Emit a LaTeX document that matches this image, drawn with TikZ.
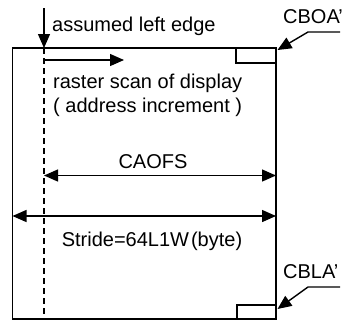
\documentclass[tikz,border=0pt]{standalone}
\usepackage{fontspec}
\setmainfont{Liberation Sans}
\usetikzlibrary{arrows.meta}
\begin{document}
\begin{tikzpicture}[x=1pt,y=-1pt,
  lbl/.style={font=\fontsize{20}{24}\selectfont, inner sep=0pt},
  frame/.style={line width=1.6pt},
  arr/.style={line width=1.4pt, -{Triangle[length=14pt,width=12pt]}},
  darr/.style={line width=1.4pt, {Triangle[length=14pt,width=12pt]}-{Triangle[length=14pt,width=12pt]}},
  dashline/.style={line width=1.4pt, dash pattern=on 6pt off 4pt}]
\useasboundingbox (0,0) rectangle (349,322);
% main frame
\draw[frame] (12.5,48) rectangle (276,319);
% small boxes
\draw[frame] (236,48) rectangle (276,63);
\draw[frame] (237,305) rectangle (276,319);
% assumed left edge
\coordinate (ae0) at (44,8);
\coordinate (ae1) at (44,48);
\coordinate (ae2) at (44,319);
\draw[arr] (ae0) -- (ae1);
\draw[dashline] (ae1) -- (ae2);
\node[lbl, anchor=base west] (ale) at (52,31) {assumed left edge};
% raster scan
\coordinate (rs0) at (44,60);
\coordinate (rs1) at (124,60);
\draw[arr] (rs0) -- (rs1);
\node[lbl, anchor=base west] (rsd) at (53,88) {raster scan of display};
\node[lbl, anchor=base west] (adi) at (53,112) {( address increment )};
% CAOFS
\coordinate (ca0) at (44,175.5);
\coordinate (ca1) at (276,175.5);
\draw[darr] (ca0) -- (ca1);
\node[lbl, anchor=base] (caofs) at (153,168) {CAOFS};
% Stride
\coordinate (st0) at (12.5,216);
\coordinate (st1) at (276,216);
\draw[darr] (st0) -- (st1);
\node[lbl, anchor=base] (stride) at (152,246) {Stride=64L1W\hspace{2pt}(byte)};
% CBOA'
\node[lbl, anchor=base west] (cboa) at (283,23) {CBOA'};
\coordinate (cb0) at (340,32);
\coordinate (cb1) at (308,32);
\coordinate (cbt) at (277.5,50);
\draw[arr] (cb0) -- (cb1) -- (cbt);
% CBLA'
\node[lbl, anchor=base west] (cbla) at (283,278) {CBLA'};
\coordinate (cl0) at (340,287);
\coordinate (cl1) at (308,287);
\coordinate (clt) at (277.5,309);
\draw[arr] (cl0) -- (cl1) -- (clt);
\end{tikzpicture}
\end{document}
